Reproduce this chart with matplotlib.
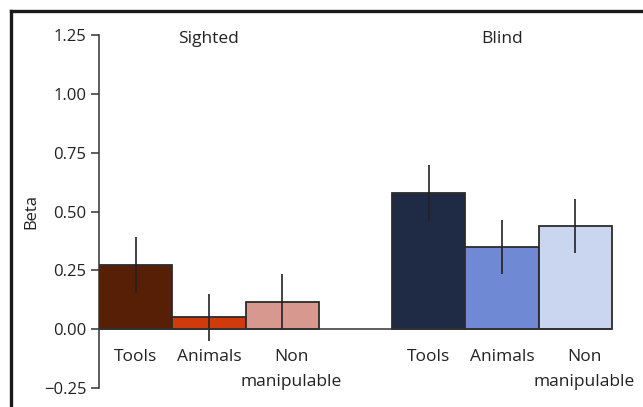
import numpy as np
import matplotlib.pyplot as plt
from matplotlib.lines import Line2D

# Datos
groups = ['Sighted', 'Blind']
categories = ['Tools', 'Animals', 'Non']
sighted_beta = [0.272, 0.050, 0.115]
sighted_err = [0.118, 0.100, 0.118]
blind_beta = [0.578, 0.348, 0.440]
blind_err = [0.118, 0.115, 0.115]
sighted_colors = ['#561f06', '#d13b0b', '#d6988f']
blind_colors = ['#1f2a44', '#7089d5', '#cad5f0']
yticks = [-0.25, 0.00, 0.25, 0.50, 0.75, 1.00, 1.25]

plt.rcParams['font.family'] = ['Open Sans', 'DejaVu Sans']

fig = plt.figure(figsize=(6.43, 4.07), dpi=100)
ax = fig.add_axes([0.1540, 0.0467, 0.84, 0.867])

x_s = np.arange(3)
x_b = np.arange(3) + 4

ax.bar(x_s, sighted_beta, width=1.0, color=sighted_colors, edgecolor='#2b2b2b', linewidth=1.3)
ax.bar(x_b, blind_beta, width=1.0, color=blind_colors, edgecolor='#2b2b2b', linewidth=1.3)
ax.errorbar(x_s, sighted_beta, yerr=sighted_err, fmt='none', ecolor='#222222', elinewidth=1.2, capsize=0)
ax.errorbar(x_b, blind_beta, yerr=blind_err, fmt='none', ecolor='#222222', elinewidth=1.2, capsize=0)

# Linea base en cero
ax.hlines(0, -0.5, 6.5, color='#333333', linewidth=1.1)

# Etiquetas de categorias (la tercera va en dos lineas)
for xs in (x_s, x_b):
    for i, (xi, cat) in enumerate(zip(xs, categories)):
        dx = 0.12 if i == 2 else 0.0
        ax.text(xi + dx, -0.119, cat, ha='center', va='center', fontsize=12.5, color='#222222')
    ax.text(xs[2] + 0.12, -0.225, 'manipulable', ha='center', va='center', fontsize=12.5,
            color='#222222')

ax.text(1.0, 1.233, groups[0], ha='center', va='center', fontsize=12.5, color='#222222')
ax.text(5.0, 1.233, groups[1], ha='center', va='center', fontsize=12.5, color='#222222')

ax.set_xlim(-0.5, 6.87)
ax.set_ylim(-0.25, 1.25)
ax.set_yticks(yticks)
ax.set_yticklabels([f'{v:.2f}'.replace('-', '\u2212') for v in yticks], fontsize=12, color='#222222')
ax.set_ylabel('Beta', fontsize=12, color='#222222', labelpad=3)
ax.set_xticks([])
for s in ['top', 'right', 'bottom']:
    ax.spines[s].set_visible(False)
ax.spines['left'].set_color('#333333')
ax.spines['left'].set_linewidth(1.1)
ax.tick_params(axis='y', direction='out', length=6, width=1.1, pad=3, color='#333333')

# Marco de la figura (arriba e izquierda)
fig.add_artist(Line2D([11 / 643, 11 / 643], [0, 1 - 11 / 407], color='#1a1a1a', linewidth=2.4))
fig.add_artist(Line2D([11 / 643, 1], [1 - 11 / 407, 1 - 11 / 407], color='#1a1a1a', linewidth=2.4))

fig.savefig('out.png', dpi=100)
